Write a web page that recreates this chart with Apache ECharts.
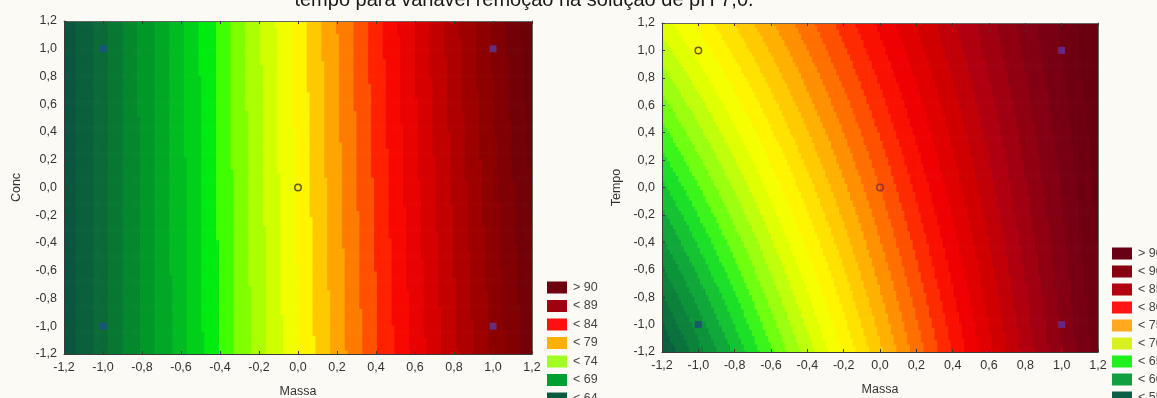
<!DOCTYPE html>
<html>
<head>
<meta charset="utf-8">
<script src="https://cdn.jsdelivr.net/npm/echarts@6/dist/echarts.min.js"></script>
<style>
  html, body { margin: 0; padding: 0; background: #fcfaf5; }
  #chart { width: 1157px; height: 398px; }
</style>
</head>
<body>
<div id="chart"></div>
<script>
// Coded levels of the 2² factorial design with a centre point
const massa = [-1, -1, 1, 1, 0];
const conc = [-1, 1, -1, 1, 0];
const tempo = [-1, 1, -1, 1, 0];

// Removal (%) observed at each design point
const remocaoConc = [64.7, 64.7, 89.3, 90.1, 77.2];
const remocaoTempo = [61.45, 70.35, 87.15, 89.05, 77.0];

// Legend entries, top to bottom
const legendConc = ['> 90', '< 89', '< 84', '< 79', '< 74', '< 69', '< 64'];
const legendTempo = ['> 90', '< 90', '< 85', '< 80', '< 75', '< 70', '< 65', '< 60', '< 55'];

const titleText = 'tempo para variável remoção na solução de pH 7,0.';

// ---- styling ----
const FONT = '"Liberation Sans", Arial, sans-serif';
const swatchConc = ['#6e0010', '#a00010', '#ff1010', '#ffb000', '#a0ff20', '#00a030', '#0b5a40'];
const swatchTempo = ['#6a0015', '#860012', '#b00012', '#ff1515', '#ffa820', '#d8f020', '#20f020', '#10a040', '#0a6045'];

const paletteConc = [
  [61, '#0a4a3c'], [63, '#0b5a3e'], [65, '#0a7034'], [67, '#03902a'], [69, '#00b024'],
  [70.5, '#00d01a'], [71.5, '#00ec10'], [72.5, '#40ff00'], [73.5, '#80ff00'], [75, '#c0ff00'],
  [76.5, '#f0ff00'], [77.3, '#ffff00'], [78.2, '#ffd400'], [79.5, '#ffa400'], [80.7, '#ff7400'],
  [81.8, '#ff4400'], [83, '#ff0a00'], [85, '#e00000'], [87, '#b80000'], [89.3, '#900000'],
  [91.5, '#740008'], [93, '#680008']
];
const paletteTempo = [
  [56, '#0a4a3c'], [57.5, '#0a5040'], [59, '#0a6a3e'], [61, '#0c8a3a'], [62.5, '#10a83a'],
  [64, '#18d030'], [65, '#20f020'], [66.5, '#70ff10'], [68, '#b0ff10'], [69.5, '#e0ff00'],
  [71, '#ffff00'], [73, '#ffd800'], [74.5, '#ffb000'], [76, '#ff8000'], [77.5, '#ff5000'],
  [79, '#ff1800'], [80.5, '#f00000'], [82.5, '#d00000'], [84.5, '#b00010'], [86.5, '#900012'],
  [88.5, '#780012'], [90.5, '#680010'], [92, '#600010']
];

function hexToRgb(h) {
  return [parseInt(h.slice(1, 3), 16), parseInt(h.slice(3, 5), 16), parseInt(h.slice(5, 7), 16)];
}
function rampColor(stops, v) {
  if (v <= stops[0][0]) return stops[0][1];
  for (let i = 1; i < stops.length; i++) {
    if (v <= stops[i][0]) {
      const a = hexToRgb(stops[i - 1][1]), b = hexToRgb(stops[i][1]);
      const t = (v - stops[i - 1][0]) / (stops[i][0] - stops[i - 1][0]);
      const c = a.map((ch, k) => Math.round(ch + (b[k] - ch) * t));
      return 'rgb(' + c.join(',') + ')';
    }
  }
  return stops[stops.length - 1][1];
}

// Least-squares fit of z = b0 + b1·x + b2·y + b12·x·y; the coded design is orthogonal
function fitSurface(xs, ys, zs) {
  const cols = [xs.map(() => 1), xs, ys, xs.map((x, i) => x * ys[i])];
  return cols.map(c =>
    c.reduce((s, v, i) => s + v * zs[i], 0) / c.reduce((s, v) => s + v * v, 0));
}

// Fitted response evaluated on a fine mesh over the plotted domain
const MESH = 160, LO = -1.2, SPAN = 2.4, STEP = SPAN / MESH;
function surfaceMesh(b) {
  const out = [];
  for (let i = 0; i < MESH; i++) {
    for (let j = 0; j < MESH; j++) {
      const x = LO + (i + 0.5) * STEP, y = LO + (j + 0.5) * STEP;
      out.push([x, y, b[0] + b[1] * x + b[2] * y + b[3] * x * y]);
    }
  }
  return out;
}

// One contour band per unit of removal
function bandPieces(stops) {
  const pieces = [];
  for (let lv = 40; lv < 110; lv++) {
    pieces.push({ gte: lv, lt: lv + 1, color: rampColor(stops, lv + 0.5) });
  }
  return pieces;
}

function legendPieces(labels, colors) {
  const n = labels.length;
  return labels.map((t, i) => ({ min: n - 1 - i, max: n - i, label: t, color: colors[i] }))
    .reverse();
}

const fmt = v => (Math.abs(v) < 1e-9 ? '0,0' : v.toFixed(1).replace('.', ','));

const surfConc = surfaceMesh(fitSurface(massa, conc, remocaoConc));
const surfTempo = surfaceMesh(fitSurface(massa, tempo, remocaoTempo));

function renderCell(params, api) {
  const x = api.value(0), y = api.value(1), h = STEP / 2;
  const p0 = api.coord([x - h, y + h]);
  const p1 = api.coord([x + h, y - h]);
  return {
    type: 'rect',
    shape: { x: p0[0], y: p0[1], width: p1[0] - p0[0] + 0.7, height: p1[1] - p0[1] + 0.7 },
    style: { fill: api.visual('color') },
    silent: true
  };
}

const labelStyle = { color: '#333', fontSize: 12.5, fontFamily: FONT };
const lineStyle = { color: '#3a3a3a', width: 1 };

function bottomAxis(gi, name) {
  return {
    gridIndex: gi, type: 'value', position: 'bottom', min: -1.2, max: 1.2, interval: 0.2, z: 10,
    name: name, nameLocation: 'middle', nameGap: 31,
    nameTextStyle: { color: '#333', fontSize: 12.5, fontFamily: FONT },
    axisLine: { show: true, onZero: false, lineStyle },
    axisTick: { show: true, inside: true, length: 3, lineStyle },
    axisLabel: Object.assign({ formatter: fmt, margin: 7, showMinLabel: true, showMaxLabel: true }, labelStyle),
    splitLine: { show: false }
  };
}
function topAxis(gi) {
  return {
    gridIndex: gi, type: 'value', position: 'top', min: -1.2, max: 1.2, interval: 0.2, z: 10,
    axisLine: { show: true, onZero: false, lineStyle: { color: '#666', width: 1 } },
    axisTick: { show: true, inside: true, length: 3, lineStyle },
    axisLabel: { show: false }, splitLine: { show: false }
  };
}
function leftAxis(gi, name, gap) {
  return {
    gridIndex: gi, type: 'value', position: 'left', min: -1.2, max: 1.2, interval: 0.2, z: 10,
    name: name, nameLocation: 'middle', nameGap: gap, nameRotate: 90,
    nameTextStyle: { color: '#333', fontSize: 12.5, fontFamily: FONT },
    axisLine: { show: true, onZero: false, lineStyle },
    axisTick: { show: true, inside: true, length: 3, lineStyle },
    axisLabel: Object.assign({ formatter: fmt, margin: 7, showMinLabel: true, showMaxLabel: true }, labelStyle),
    splitLine: { show: false }
  };
}
function rightAxis(gi) {
  return {
    gridIndex: gi, type: 'value', position: 'right', min: -1.2, max: 1.2, interval: 0.2, z: 10,
    axisLine: { show: true, onZero: false, lineStyle: { color: '#666', width: 1 } },
    axisTick: { show: false }, axisLabel: { show: false }, splitLine: { show: false }
  };
}

// Marker look for each design point
const square = c => ({ symbol: 'rect', symbolSize: 7, itemStyle: { color: c } });
const ring = c => ({ symbol: 'circle', symbolSize: 6.5, itemStyle: { color: 'rgba(0,0,0,0)', borderColor: c, borderWidth: 1.5 } });
const markConc = [square('#1f4f8c'), square('#1f4f8c'), square('#5a3a9c'), square('#5a3a9c'), ring('#3a3626')];
const markTempo = [square('#1a4a7a'), ring('#4a3a1a'), square('#6030a0'), square('#6030a0'), ring('#7a2a40')];

function designPoints(xs, ys, zs, marks) {
  return xs.map((x, i) => Object.assign({ value: [x, ys[i], zs[i]] }, marks[i]));
}

function legendMap(left, top, gap, labels, colors) {
  return {
    type: 'piecewise', seriesIndex: [], orient: 'vertical', align: 'left', left: left, top: top, padding: 0,
    itemWidth: 20, itemHeight: 12, itemGap: gap, textGap: 6, itemSymbol: 'rect',
    selectedMode: false, hoverLink: false,
    textStyle: { color: '#444', fontSize: 12.5, fontFamily: FONT },
    pieces: legendPieces(labels, colors)
  };
}

function surfaceSeries(idx, data) {
  return {
    type: 'custom', xAxisIndex: idx, yAxisIndex: idx, data: data, renderItem: renderCell, clip: true,
    encode: { x: 0, y: 1 }, z: 1, silent: true, progressive: 0, progressiveThreshold: 1e9
  };
}

const option = {
  backgroundColor: '#fcfaf5',
  animation: false,
  graphic: [{
    type: 'text', x: 524, y: 0, z: 20,
    style: {
      text: titleText, fill: '#1a1a1a', fontSize: 20, fontFamily: FONT,
      align: 'center', textAlign: 'center', verticalAlign: 'middle', textVerticalAlign: 'middle'
    }
  }],
  grid: [
    { left: 64, top: 21, width: 468, height: 333, outerBoundsMode: 'none', containLabel: false },
    { left: 662, top: 23, width: 436, height: 329, outerBoundsMode: 'none', containLabel: false }
  ],
  xAxis: [bottomAxis(0, 'Massa'), bottomAxis(1, 'Massa'), topAxis(0), topAxis(1)],
  yAxis: [leftAxis(0, 'Conc', 41), leftAxis(1, 'Tempo', 39), rightAxis(0), rightAxis(1)],
  visualMap: [
    { type: 'piecewise', show: false, seriesIndex: 0, dimension: 2, pieces: bandPieces(paletteConc) },
    { type: 'piecewise', show: false, seriesIndex: 1, dimension: 2, pieces: bandPieces(paletteTempo) },
    legendMap(547, 281, 5.5, legendConc, swatchConc),
    legendMap(1112, 247, 5, legendTempo, swatchTempo)
  ],
  series: [
    surfaceSeries(0, surfConc),
    surfaceSeries(1, surfTempo),
    { type: 'scatter', xAxisIndex: 0, yAxisIndex: 0, z: 5, silent: true,
      data: designPoints(massa, conc, remocaoConc, markConc) },
    { type: 'scatter', xAxisIndex: 1, yAxisIndex: 1, z: 5, silent: true,
      data: designPoints(massa, tempo, remocaoTempo, markTempo) }
  ]
};

const chart = echarts.init(document.getElementById('chart'), null, { renderer: 'canvas' });
chart.setOption(option);
</script>
</body>
</html>
